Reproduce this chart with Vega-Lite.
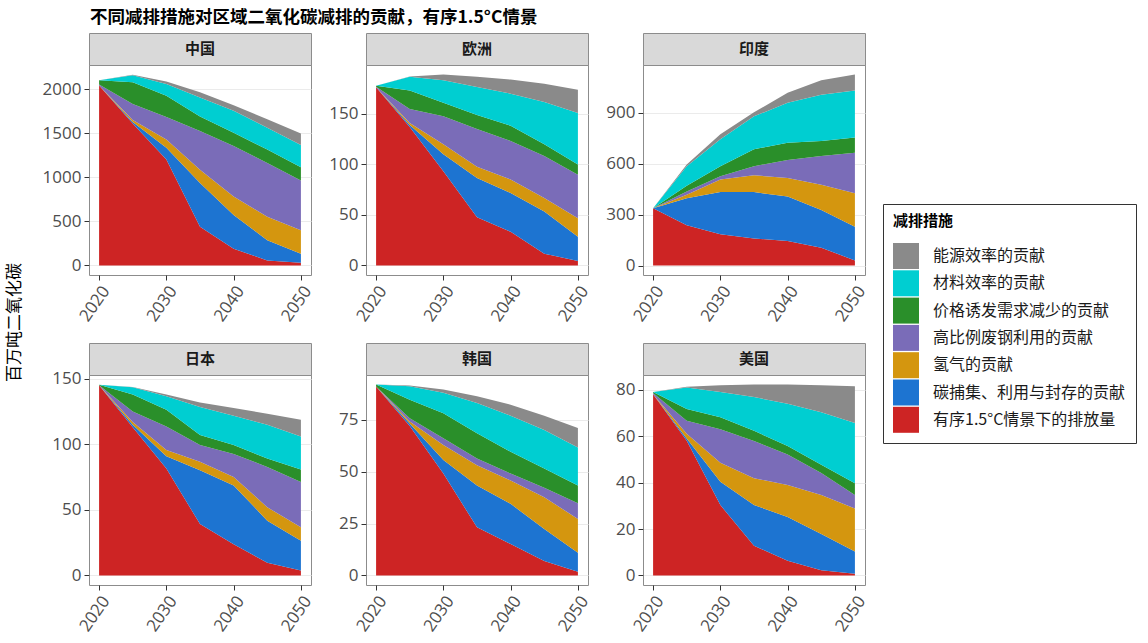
{
  "$schema": "https://vega.github.io/schema/vega-lite/v6.json",
  "padding": {"left": 5, "top": 9, "right": 5, "bottom": 5},
  "datasets": {
    "measures": [
      {"k": "e", "measure": "能源效率的贡献", "layer": 7},
      {"k": "c", "measure": "材料效率的贡献", "layer": 6},
      {"k": "g", "measure": "价格诱发需求减少的贡献", "layer": 5},
      {"k": "p", "measure": "高比例废钢利用的贡献", "layer": 4},
      {"k": "o", "measure": "氢气的贡献", "layer": 3},
      {"k": "b", "measure": "碳捕集、利用与封存的贡献", "layer": 2},
      {"k": "r", "measure": "有序1.5°C情景下的排放量", "layer": 1}
    ],
    "emissions": [
      {"region":"中国","year":2020,"k":"r","v":2040},{"region":"中国","year":2020,"k":"b","v":0},{"region":"中国","year":2020,"k":"o","v":0},{"region":"中国","year":2020,"k":"p","v":10},{"region":"中国","year":2020,"k":"g","v":50},{"region":"中国","year":2020,"k":"c","v":0},{"region":"中国","year":2020,"k":"e","v":0},
      {"region":"中国","year":2025,"k":"r","v":1610},{"region":"中国","year":2025,"k":"b","v":15},{"region":"中国","year":2025,"k":"o","v":25},{"region":"中国","year":2025,"k":"p","v":179},{"region":"中国","year":2025,"k":"g","v":247},{"region":"中国","year":2025,"k":"c","v":79},{"region":"中国","year":2025,"k":"e","v":7},
      {"region":"中国","year":2030,"k":"r","v":1200},{"region":"中国","year":2030,"k":"b","v":134},{"region":"中国","year":2030,"k":"o","v":95},{"region":"中国","year":2030,"k":"p","v":255},{"region":"中国","year":2030,"k":"g","v":240},{"region":"中国","year":2030,"k":"c","v":133},{"region":"中国","year":2030,"k":"e","v":27},
      {"region":"中国","year":2035,"k":"r","v":438},{"region":"中国","year":2035,"k":"b","v":496},{"region":"中国","year":2035,"k":"o","v":152},{"region":"中国","year":2035,"k":"p","v":438},{"region":"中国","year":2035,"k":"g","v":164},{"region":"中国","year":2035,"k":"c","v":217},{"region":"中国","year":2035,"k":"e","v":57},
      {"region":"中国","year":2040,"k":"r","v":190},{"region":"中国","year":2040,"k":"b","v":382},{"region":"中国","year":2040,"k":"o","v":209},{"region":"中国","year":2040,"k":"p","v":572},{"region":"中国","year":2040,"k":"g","v":152},{"region":"中国","year":2040,"k":"c","v":248},{"region":"中国","year":2040,"k":"e","v":64},
      {"region":"中国","year":2045,"k":"r","v":57},{"region":"中国","year":2045,"k":"b","v":229},{"region":"中国","year":2045,"k":"o","v":266},{"region":"中国","year":2045,"k":"p","v":610},{"region":"中国","year":2045,"k":"g","v":152},{"region":"中国","year":2045,"k":"c","v":248},{"region":"中国","year":2045,"k":"e","v":95},
      {"region":"中国","year":2050,"k":"r","v":30},{"region":"中国","year":2050,"k":"b","v":103},{"region":"中国","year":2050,"k":"o","v":267},{"region":"中国","year":2050,"k":"p","v":564},{"region":"中国","year":2050,"k":"g","v":149},{"region":"中国","year":2050,"k":"c","v":251},{"region":"中国","year":2050,"k":"e","v":133},

      {"region":"欧洲","year":2020,"k":"r","v":176.5},{"region":"欧洲","year":2020,"k":"b","v":0},{"region":"欧洲","year":2020,"k":"o","v":0},{"region":"欧洲","year":2020,"k":"p","v":0.5},{"region":"欧洲","year":2020,"k":"g","v":1},{"region":"欧洲","year":2020,"k":"c","v":0},{"region":"欧洲","year":2020,"k":"e","v":0},
      {"region":"欧洲","year":2025,"k":"r","v":137},{"region":"欧洲","year":2025,"k":"b","v":2},{"region":"欧洲","year":2025,"k":"o","v":2},{"region":"欧洲","year":2025,"k":"p","v":14},{"region":"欧洲","year":2025,"k":"g","v":18.3},{"region":"欧洲","year":2025,"k":"c","v":13.4},{"region":"欧洲","year":2025,"k":"e","v":0.3},
      {"region":"欧洲","year":2030,"k":"r","v":93.3},{"region":"欧洲","year":2030,"k":"b","v":16.7},{"region":"欧洲","year":2030,"k":"o","v":10},{"region":"欧洲","year":2030,"k":"p","v":27.7},{"region":"欧洲","year":2030,"k":"g","v":13.3},{"region":"欧洲","year":2030,"k":"c","v":22.3},{"region":"欧洲","year":2030,"k":"e","v":5.7},
      {"region":"欧洲","year":2035,"k":"r","v":47.7},{"region":"欧洲","year":2035,"k":"b","v":39},{"region":"欧洲","year":2035,"k":"o","v":11},{"region":"欧洲","year":2035,"k":"p","v":37.3},{"region":"欧洲","year":2035,"k":"g","v":14},{"region":"欧洲","year":2035,"k":"c","v":27.7},{"region":"欧洲","year":2035,"k":"e","v":10},
      {"region":"欧洲","year":2040,"k":"r","v":33.3},{"region":"欧洲","year":2040,"k":"b","v":38.4},{"region":"欧洲","year":2040,"k":"o","v":13.3},{"region":"欧洲","year":2040,"k":"p","v":38.3},{"region":"欧洲","year":2040,"k":"g","v":15},{"region":"欧洲","year":2040,"k":"c","v":31.7},{"region":"欧洲","year":2040,"k":"e","v":14},
      {"region":"欧洲","year":2045,"k":"r","v":11.7},{"region":"欧洲","year":2045,"k":"b","v":41.6},{"region":"欧洲","year":2045,"k":"o","v":13.4},{"region":"欧洲","year":2045,"k":"p","v":41.6},{"region":"欧洲","year":2045,"k":"g","v":11.7},{"region":"欧洲","year":2045,"k":"c","v":41.7},{"region":"欧洲","year":2045,"k":"e","v":18.3},
      {"region":"欧洲","year":2050,"k":"r","v":4.3},{"region":"欧洲","year":2050,"k":"b","v":24},{"region":"欧洲","year":2050,"k":"o","v":18.4},{"region":"欧洲","year":2050,"k":"p","v":43},{"region":"欧洲","year":2050,"k":"g","v":10.3},{"region":"欧洲","year":2050,"k":"c","v":51},{"region":"欧洲","year":2050,"k":"e","v":23},

      {"region":"印度","year":2020,"k":"r","v":338},{"region":"印度","year":2020,"k":"b","v":0},{"region":"印度","year":2020,"k":"o","v":0},{"region":"印度","year":2020,"k":"p","v":0},{"region":"印度","year":2020,"k":"g","v":0},{"region":"印度","year":2020,"k":"c","v":0},{"region":"印度","year":2020,"k":"e","v":0},
      {"region":"印度","year":2025,"k":"r","v":238},{"region":"印度","year":2025,"k":"b","v":159},{"region":"印度","year":2025,"k":"o","v":20},{"region":"印度","year":2025,"k":"p","v":20},{"region":"印度","year":2025,"k":"g","v":34},{"region":"印度","year":2025,"k":"c","v":115},{"region":"印度","year":2025,"k":"e","v":10},
      {"region":"印度","year":2030,"k":"r","v":185},{"region":"印度","year":2030,"k":"b","v":248},{"region":"印度","year":2030,"k":"o","v":74},{"region":"印度","year":2030,"k":"p","v":20},{"region":"印度","year":2030,"k":"g","v":59},{"region":"印度","year":2030,"k":"c","v":159},{"region":"印度","year":2030,"k":"e","v":30},
      {"region":"印度","year":2035,"k":"r","v":159},{"region":"印度","year":2035,"k":"b","v":274},{"region":"印度","year":2035,"k":"o","v":99},{"region":"印度","year":2035,"k":"p","v":54},{"region":"印度","year":2035,"k":"g","v":100},{"region":"印度","year":2035,"k":"c","v":194},{"region":"印度","year":2035,"k":"e","v":24},
      {"region":"印度","year":2040,"k":"r","v":145},{"region":"印度","year":2040,"k":"b","v":262},{"region":"印度","year":2040,"k":"o","v":110},{"region":"印度","year":2040,"k":"p","v":105},{"region":"印度","year":2040,"k":"g","v":103},{"region":"印度","year":2040,"k":"c","v":235},{"region":"印度","year":2040,"k":"e","v":59},
      {"region":"印度","year":2045,"k":"r","v":105},{"region":"印度","year":2045,"k":"b","v":223},{"region":"印度","year":2045,"k":"o","v":149},{"region":"印度","year":2045,"k":"p","v":169},{"region":"印度","year":2045,"k":"g","v":89},{"region":"印度","year":2045,"k":"c","v":272},{"region":"印度","year":2045,"k":"e","v":86},
      {"region":"印度","year":2050,"k":"r","v":30},{"region":"印度","year":2050,"k":"b","v":198},{"region":"印度","year":2050,"k":"o","v":199},{"region":"印度","year":2050,"k":"p","v":239},{"region":"印度","year":2050,"k":"g","v":89},{"region":"印度","year":2050,"k":"c","v":278},{"region":"印度","year":2050,"k":"e","v":94},

      {"region":"日本","year":2020,"k":"r","v":145},{"region":"日本","year":2020,"k":"b","v":0},{"region":"日本","year":2020,"k":"o","v":0},{"region":"日本","year":2020,"k":"p","v":0},{"region":"日本","year":2020,"k":"g","v":0.5},{"region":"日本","year":2020,"k":"c","v":0},{"region":"日本","year":2020,"k":"e","v":0},
      {"region":"日本","year":2025,"k":"r","v":113},{"region":"日本","year":2025,"k":"b","v":2},{"region":"日本","year":2025,"k":"o","v":2},{"region":"日本","year":2025,"k":"p","v":8},{"region":"日本","year":2025,"k":"g","v":13},{"region":"日本","year":2025,"k":"c","v":5.6},{"region":"日本","year":2025,"k":"e","v":0.2},
      {"region":"日本","year":2030,"k":"r","v":81.5},{"region":"日本","year":2030,"k":"b","v":9.5},{"region":"日本","year":2030,"k":"o","v":4.6},{"region":"日本","year":2030,"k":"p","v":18},{"region":"日本","year":2030,"k":"g","v":12.8},{"region":"日本","year":2030,"k":"c","v":10.3},{"region":"日本","year":2030,"k":"e","v":1.3},
      {"region":"日本","year":2035,"k":"r","v":39.2},{"region":"日本","year":2035,"k":"b","v":41.1},{"region":"日本","year":2035,"k":"o","v":6.4},{"region":"日本","year":2035,"k":"p","v":12.8},{"region":"日本","year":2035,"k":"g","v":7.7},{"region":"日本","year":2035,"k":"c","v":21.3},{"region":"日本","year":2035,"k":"e","v":3.5},
      {"region":"日本","year":2040,"k":"r","v":23.8},{"region":"日本","year":2040,"k":"b","v":44.9},{"region":"日本","year":2040,"k":"o","v":6.4},{"region":"日本","year":2040,"k":"p","v":17.5},{"region":"日本","year":2040,"k":"g","v":6.9},{"region":"日本","year":2040,"k":"c","v":22.3},{"region":"日本","year":2040,"k":"e","v":5.9},
      {"region":"日本","year":2045,"k":"r","v":9.7},{"region":"日本","year":2045,"k":"b","v":32.1},{"region":"日本","year":2045,"k":"o","v":10.2},{"region":"日本","year":2045,"k":"p","v":30.8},{"region":"日本","year":2045,"k":"g","v":6.4},{"region":"日本","year":2045,"k":"c","v":25.7},{"region":"日本","year":2045,"k":"e","v":8.4},
      {"region":"日本","year":2050,"k":"r","v":3.8},{"region":"日本","year":2050,"k":"b","v":22.6},{"region":"日本","year":2050,"k":"o","v":10.3},{"region":"日本","year":2050,"k":"p","v":34.6},{"region":"日本","year":2050,"k":"g","v":9.5},{"region":"日本","year":2050,"k":"c","v":25.1},{"region":"日本","year":2050,"k":"e","v":12.8},

      {"region":"韩国","year":2020,"k":"r","v":91},{"region":"韩国","year":2020,"k":"b","v":0},{"region":"韩国","year":2020,"k":"o","v":0},{"region":"韩国","year":2020,"k":"p","v":0},{"region":"韩国","year":2020,"k":"g","v":1},{"region":"韩国","year":2020,"k":"c","v":0},{"region":"韩国","year":2020,"k":"e","v":0},
      {"region":"韩国","year":2025,"k":"r","v":72},{"region":"韩国","year":2025,"k":"b","v":1.2},{"region":"韩国","year":2025,"k":"o","v":1},{"region":"韩国","year":2025,"k":"p","v":1.6},{"region":"韩国","year":2025,"k":"g","v":8.9},{"region":"韩国","year":2025,"k":"c","v":6.5},{"region":"韩国","year":2025,"k":"e","v":0.3},
      {"region":"韩国","year":2030,"k":"r","v":49.1},{"region":"韩国","year":2030,"k":"b","v":6.5},{"region":"韩国","year":2030,"k":"o","v":7.3},{"region":"韩国","year":2030,"k":"p","v":3.2},{"region":"韩国","year":2030,"k":"g","v":12.1},{"region":"韩国","year":2030,"k":"c","v":9.8},{"region":"韩国","year":2030,"k":"e","v":1.6},
      {"region":"韩国","year":2035,"k":"r","v":23.2},{"region":"韩国","year":2035,"k":"b","v":20.2},{"region":"韩国","year":2035,"k":"o","v":9.7},{"region":"韩国","year":2035,"k":"p","v":3.3},{"region":"韩国","year":2035,"k":"g","v":12.1},{"region":"韩国","year":2035,"k":"c","v":14.6},{"region":"韩国","year":2035,"k":"e","v":3.2},
      {"region":"韩国","year":2040,"k":"r","v":15.1},{"region":"韩国","year":2040,"k":"b","v":19.4},{"region":"韩国","year":2040,"k":"o","v":11.3},{"region":"韩国","year":2040,"k":"p","v":3.3},{"region":"韩国","year":2040,"k":"g","v":10.5},{"region":"韩国","year":2040,"k":"c","v":17.4},{"region":"韩国","year":2040,"k":"e","v":5.3},
      {"region":"韩国","year":2045,"k":"r","v":7},{"region":"韩国","year":2045,"k":"b","v":15.4},{"region":"韩国","year":2045,"k":"o","v":15.3},{"region":"韩国","year":2045,"k":"p","v":4.6},{"region":"韩国","year":2045,"k":"g","v":9.2},{"region":"韩国","year":2045,"k":"c","v":18.6},{"region":"韩国","year":2045,"k":"e","v":6.9},
      {"region":"韩国","year":2050,"k":"r","v":1.8},{"region":"韩国","year":2050,"k":"b","v":9.2},{"region":"韩国","year":2050,"k":"o","v":16.2},{"region":"韩国","year":2050,"k":"p","v":7.6},{"region":"韩国","year":2050,"k":"g","v":8.6},{"region":"韩国","year":2050,"k":"c","v":18.3},{"region":"韩国","year":2050,"k":"e","v":9.3},

      {"region":"美国","year":2020,"k":"r","v":78},{"region":"美国","year":2020,"k":"b","v":0},{"region":"美国","year":2020,"k":"o","v":0},{"region":"美国","year":2020,"k":"p","v":0.5},{"region":"美国","year":2020,"k":"g","v":0.5},{"region":"美国","year":2020,"k":"c","v":0},{"region":"美国","year":2020,"k":"e","v":0},
      {"region":"美国","year":2025,"k":"r","v":58},{"region":"美国","year":2025,"k":"b","v":1},{"region":"美国","year":2025,"k":"o","v":2},{"region":"美国","year":2025,"k":"p","v":5.6},{"region":"美国","year":2025,"k":"g","v":5.1},{"region":"美国","year":2025,"k":"c","v":9.2},{"region":"美国","year":2025,"k":"e","v":0.3},
      {"region":"美国","year":2030,"k":"r","v":30.3},{"region":"美国","year":2030,"k":"b","v":10.1},{"region":"美国","year":2030,"k":"o","v":8.1},{"region":"美国","year":2030,"k":"p","v":14.5},{"region":"美国","year":2030,"k":"g","v":5.1},{"region":"美国","year":2030,"k":"c","v":10.9},{"region":"美国","year":2030,"k":"e","v":2.9},
      {"region":"美国","year":2035,"k":"r","v":12.8},{"region":"美国","year":2035,"k":"b","v":17.5},{"region":"美国","year":2035,"k":"o","v":11.6},{"region":"美国","year":2035,"k":"p","v":16},{"region":"美国","year":2035,"k":"g","v":4.4},{"region":"美国","year":2035,"k":"c","v":14.5},{"region":"美国","year":2035,"k":"e","v":5.4},
      {"region":"美国","year":2040,"k":"r","v":6.3},{"region":"美国","year":2040,"k":"b","v":18.9},{"region":"美国","year":2040,"k":"o","v":13.8},{"region":"美国","year":2040,"k":"p","v":13.1},{"region":"美国","year":2040,"k":"g","v":3.6},{"region":"美国","year":2040,"k":"c","v":18.2},{"region":"美国","year":2040,"k":"e","v":8.3},
      {"region":"美国","year":2045,"k":"r","v":2.2},{"region":"美国","year":2045,"k":"b","v":15.7},{"region":"美国","year":2045,"k":"o","v":16.7},{"region":"美国","year":2045,"k":"p","v":9.5},{"region":"美国","year":2045,"k":"g","v":3.6},{"region":"美国","year":2045,"k":"c","v":22.6},{"region":"美国","year":2045,"k":"e","v":11.6},
      {"region":"美国","year":2050,"k":"r","v":0.7},{"region":"美国","year":2050,"k":"b","v":9.6},{"region":"美国","year":2050,"k":"o","v":18.5},{"region":"美国","year":2050,"k":"p","v":5.8},{"region":"美国","year":2050,"k":"g","v":5.1},{"region":"美国","year":2050,"k":"c","v":25.9},{"region":"美国","year":2050,"k":"e","v":15.9}
    ]
  },
  "title": {
    "text": "不同减排措施对区域二氧化碳减排的贡献，有序1.5°C情景",
    "anchor": "start",
    "frame": "group",
    "dx": 1,
    "offset": 6,
    "font": "Noto Sans CJK SC",
    "fontSize": 17.5,
    "fontWeight": "bold",
    "color": "#000000"
  },
  "vconcat": [
    {
      "title": {
        "text": "百万吨二氧化碳",
        "orient": "left",
        "anchor": "middle",
        "offset": 15,
        "dx": 11,
        "font": "Noto Sans CJK SC",
        "fontSize": 17,
        "fontWeight": "normal",
        "color": "#000000"
      },
      "columns": 3,
      "spacing": {"row": 17, "column": 0},
      "concat": [
        {
          "bounds": "flush",
          "spacing": 0,
          "vconcat": [
            {"width": 222, "height": 32, "view": {"fill": "#d9d9d9", "stroke": "#8c8c8c"}, "data": {"values": [{"region": "中国"}]}, "mark": {"type": "text", "fontSize": 15, "fontWeight": "bold", "color": "#1a1a1a"}, "encoding": {"text": {"field": "region"}}},
            {
              "width": 222, "height": 210,
              "data": {"name": "emissions"},
              "transform": [
                {"filter": "datum.region === '中国'"},
                {"lookup": "k", "from": {"data": {"name": "measures"}, "key": "k", "fields": ["measure", "layer"]}}
              ],
              "mark": {"type": "area"},
              "encoding": {
                "x": {"field": "year", "type": "quantitative", "scale": {"domain": [2018.5, 2051.5], "nice": false, "zero": false}, "axis": {"values": [2020, 2030, 2040, 2050], "format": "d", "title": null}},
                "y": {"field": "v", "type": "quantitative", "stack": "zero", "scale": {"domain": [-108, 2272], "nice": false, "zero": false}, "axis": {"values": [0, 500, 1000, 1500, 2000], "format": "d", "title": null}},
                "color": {"field": "measure", "type": "nominal", "title": "减排措施", "scale": {"domain": ["能源效率的贡献", "材料效率的贡献", "价格诱发需求减少的贡献", "高比例废钢利用的贡献", "氢气的贡献", "碳捕集、利用与封存的贡献", "有序1.5°C情景下的排放量"], "range": ["#8a8a8a", "#00ced1", "#2a8f2a", "#7a6cb8", "#d4960f", "#1d74d1", "#cd2424"]}},
                "order": {"field": "layer", "type": "quantitative"}
              }
            }
          ]
        },
        {
          "bounds": "flush",
          "spacing": 0,
          "vconcat": [
            {"width": 222, "height": 32, "view": {"fill": "#d9d9d9", "stroke": "#8c8c8c"}, "data": {"values": [{"region": "欧洲"}]}, "mark": {"type": "text", "fontSize": 15, "fontWeight": "bold", "color": "#1a1a1a"}, "encoding": {"text": {"field": "region"}}},
            {
              "width": 222, "height": 210,
              "data": {"name": "emissions"},
              "transform": [
                {"filter": "datum.region === '欧洲'"},
                {"lookup": "k", "from": {"data": {"name": "measures"}, "key": "k", "fields": ["measure", "layer"]}}
              ],
              "mark": {"type": "area"},
              "encoding": {
                "x": {"field": "year", "type": "quantitative", "scale": {"domain": [2018.5, 2051.5], "nice": false, "zero": false}, "axis": {"values": [2020, 2030, 2040, 2050], "format": "d", "title": null}},
                "y": {"field": "v", "type": "quantitative", "stack": "zero", "scale": {"domain": [-9.45, 198.45], "nice": false, "zero": false}, "axis": {"values": [0, 50, 100, 150], "format": "d", "title": null}},
                "color": {"field": "measure", "type": "nominal", "title": "减排措施", "scale": {"domain": ["能源效率的贡献", "材料效率的贡献", "价格诱发需求减少的贡献", "高比例废钢利用的贡献", "氢气的贡献", "碳捕集、利用与封存的贡献", "有序1.5°C情景下的排放量"], "range": ["#8a8a8a", "#00ced1", "#2a8f2a", "#7a6cb8", "#d4960f", "#1d74d1", "#cd2424"]}},
                "order": {"field": "layer", "type": "quantitative"}
              }
            }
          ]
        },
        {
          "bounds": "flush",
          "spacing": 0,
          "vconcat": [
            {"width": 222, "height": 32, "view": {"fill": "#d9d9d9", "stroke": "#8c8c8c"}, "data": {"values": [{"region": "印度"}]}, "mark": {"type": "text", "fontSize": 15, "fontWeight": "bold", "color": "#1a1a1a"}, "encoding": {"text": {"field": "region"}}},
            {
              "width": 222, "height": 210,
              "data": {"name": "emissions"},
              "transform": [
                {"filter": "datum.region === '印度'"},
                {"lookup": "k", "from": {"data": {"name": "measures"}, "key": "k", "fields": ["measure", "layer"]}}
              ],
              "mark": {"type": "area"},
              "encoding": {
                "x": {"field": "year", "type": "quantitative", "scale": {"domain": [2018.5, 2051.5], "nice": false, "zero": false}, "axis": {"values": [2020, 2030, 2040, 2050], "format": "d", "title": null}},
                "y": {"field": "v", "type": "quantitative", "stack": "zero", "scale": {"domain": [-56, 1183], "nice": false, "zero": false}, "axis": {"values": [0, 300, 600, 900], "format": "d", "title": null}},
                "color": {"field": "measure", "type": "nominal", "title": "减排措施", "scale": {"domain": ["能源效率的贡献", "材料效率的贡献", "价格诱发需求减少的贡献", "高比例废钢利用的贡献", "氢气的贡献", "碳捕集、利用与封存的贡献", "有序1.5°C情景下的排放量"], "range": ["#8a8a8a", "#00ced1", "#2a8f2a", "#7a6cb8", "#d4960f", "#1d74d1", "#cd2424"]}},
                "order": {"field": "layer", "type": "quantitative"}
              }
            }
          ]
        },
        {
          "bounds": "flush",
          "spacing": 0,
          "vconcat": [
            {"width": 222, "height": 32, "view": {"fill": "#d9d9d9", "stroke": "#8c8c8c"}, "data": {"values": [{"region": "日本"}]}, "mark": {"type": "text", "fontSize": 15, "fontWeight": "bold", "color": "#1a1a1a"}, "encoding": {"text": {"field": "region"}}},
            {
              "width": 222, "height": 210,
              "data": {"name": "emissions"},
              "transform": [
                {"filter": "datum.region === '日本'"},
                {"lookup": "k", "from": {"data": {"name": "measures"}, "key": "k", "fields": ["measure", "layer"]}}
              ],
              "mark": {"type": "area"},
              "encoding": {
                "x": {"field": "year", "type": "quantitative", "scale": {"domain": [2018.5, 2051.5], "nice": false, "zero": false}, "axis": {"values": [2020, 2030, 2040, 2050], "format": "d", "title": null}},
                "y": {"field": "v", "type": "quantitative", "stack": "zero", "scale": {"domain": [-7.3, 152.9], "nice": false, "zero": false}, "axis": {"values": [0, 50, 100, 150], "format": "d", "title": null}},
                "color": {"field": "measure", "type": "nominal", "title": "减排措施", "scale": {"domain": ["能源效率的贡献", "材料效率的贡献", "价格诱发需求减少的贡献", "高比例废钢利用的贡献", "氢气的贡献", "碳捕集、利用与封存的贡献", "有序1.5°C情景下的排放量"], "range": ["#8a8a8a", "#00ced1", "#2a8f2a", "#7a6cb8", "#d4960f", "#1d74d1", "#cd2424"]}},
                "order": {"field": "layer", "type": "quantitative"}
              }
            }
          ]
        },
        {
          "bounds": "flush",
          "spacing": 0,
          "vconcat": [
            {"width": 222, "height": 32, "view": {"fill": "#d9d9d9", "stroke": "#8c8c8c"}, "data": {"values": [{"region": "韩国"}]}, "mark": {"type": "text", "fontSize": 15, "fontWeight": "bold", "color": "#1a1a1a"}, "encoding": {"text": {"field": "region"}}},
            {
              "width": 222, "height": 210,
              "data": {"name": "emissions"},
              "transform": [
                {"filter": "datum.region === '韩国'"},
                {"lookup": "k", "from": {"data": {"name": "measures"}, "key": "k", "fields": ["measure", "layer"]}}
              ],
              "mark": {"type": "area"},
              "encoding": {
                "x": {"field": "year", "type": "quantitative", "scale": {"domain": [2018.5, 2051.5], "nice": false, "zero": false}, "axis": {"values": [2020, 2030, 2040, 2050], "format": "d", "title": null}},
                "y": {"field": "v", "type": "quantitative", "stack": "zero", "scale": {"domain": [-4.6, 96.6], "nice": false, "zero": false}, "axis": {"values": [0, 25, 50, 75], "format": "d", "title": null}},
                "color": {"field": "measure", "type": "nominal", "title": "减排措施", "scale": {"domain": ["能源效率的贡献", "材料效率的贡献", "价格诱发需求减少的贡献", "高比例废钢利用的贡献", "氢气的贡献", "碳捕集、利用与封存的贡献", "有序1.5°C情景下的排放量"], "range": ["#8a8a8a", "#00ced1", "#2a8f2a", "#7a6cb8", "#d4960f", "#1d74d1", "#cd2424"]}},
                "order": {"field": "layer", "type": "quantitative"}
              }
            }
          ]
        },
        {
          "bounds": "flush",
          "spacing": 0,
          "vconcat": [
            {"width": 222, "height": 32, "view": {"fill": "#d9d9d9", "stroke": "#8c8c8c"}, "data": {"values": [{"region": "美国"}]}, "mark": {"type": "text", "fontSize": 15, "fontWeight": "bold", "color": "#1a1a1a"}, "encoding": {"text": {"field": "region"}}},
            {
              "width": 222, "height": 210,
              "data": {"name": "emissions"},
              "transform": [
                {"filter": "datum.region === '美国'"},
                {"lookup": "k", "from": {"data": {"name": "measures"}, "key": "k", "fields": ["measure", "layer"]}}
              ],
              "mark": {"type": "area"},
              "encoding": {
                "x": {"field": "year", "type": "quantitative", "scale": {"domain": [2018.5, 2051.5], "nice": false, "zero": false}, "axis": {"values": [2020, 2030, 2040, 2050], "format": "d", "title": null}},
                "y": {"field": "v", "type": "quantitative", "stack": "zero", "scale": {"domain": [-4.1, 86.3], "nice": false, "zero": false}, "axis": {"values": [0, 20, 40, 60, 80], "format": "d", "title": null}},
                "color": {"field": "measure", "type": "nominal", "title": "减排措施", "scale": {"domain": ["能源效率的贡献", "材料效率的贡献", "价格诱发需求减少的贡献", "高比例废钢利用的贡献", "氢气的贡献", "碳捕集、利用与封存的贡献", "有序1.5°C情景下的排放量"], "range": ["#8a8a8a", "#00ced1", "#2a8f2a", "#7a6cb8", "#d4960f", "#1d74d1", "#cd2424"]}},
                "order": {"field": "layer", "type": "quantitative"}
              }
            }
          ]
        }
      ]
    }
  ],
  "config": {
    "font": "Noto Sans CJK SC",
    "background": "#ffffff",
    "view": {"stroke": "#8c8c8c", "strokeWidth": 1},
    "text": {"font": "Noto Sans CJK SC"},
    "axis": {
      "domain": false,
      "tickColor": "#333333",
      "tickSize": 5,
      "labelColor": "#4d4d4d",
      "labelFont": "Open Sans",
      "labelFontSize": 17,
      "labelPadding": 3,
      "labelFlush": false,
      "labelOverlap": false,
      "gridColor": "#ebebeb",
      "gridWidth": 1
    },
    "axisX": {"grid": false, "labelAngle": -55, "labelAlign": "right", "labelBaseline": "top"},
    "axisY": {"grid": true, "minExtent": 50, "maxExtent": 50},
    "legend": {
      "orient": "none",
      "legendX": 794,
      "legendY": 171,
      "direction": "vertical",
      "titleFont": "Noto Sans CJK SC",
      "titleFontSize": 15,
      "titleFontWeight": "bold",
      "titleColor": "#000000",
      "titlePadding": 14,
      "labelFont": "Noto Sans CJK SC",
      "labelFontSize": 16,
      "labelColor": "#1a1a1a",
      "labelOffset": 14,
      "labelLimit": 400,
      "symbolType": "square",
      "symbolSize": 676,
      "symbolStrokeWidth": 0,
      "symbolOpacity": 1,
      "rowPadding": 1.3,
      "padding": 10,
      "strokeColor": "#333333",
      "fillColor": "#ffffff"
    }
  }
}
